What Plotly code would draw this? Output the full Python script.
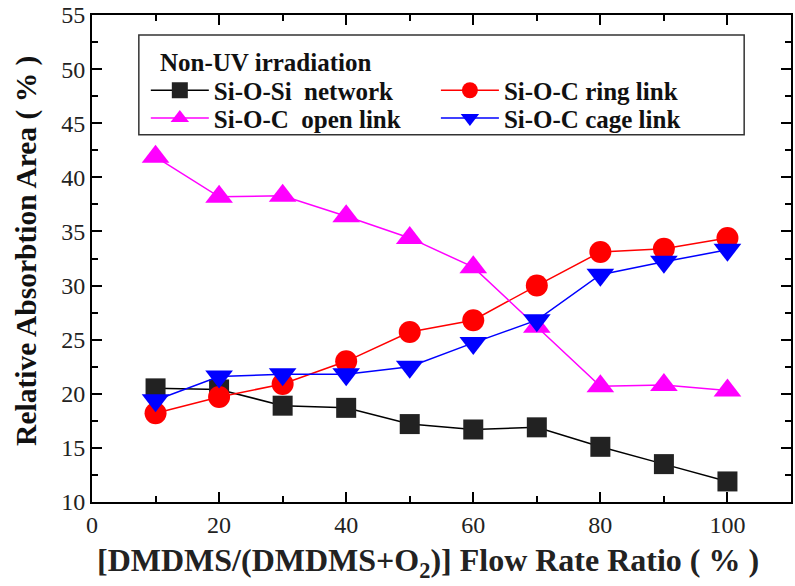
import plotly.graph_objects as go

x = [10, 20, 30, 40, 50, 60, 70, 80, 90, 100]
si_o_si = [20.5, 20.4, 18.9, 18.7, 17.2, 16.7, 16.9, 15.1, 13.5, 11.9]
ring = [18.2, 19.7, 20.9, 23.0, 25.7, 26.8, 30.0, 33.1, 33.4, 34.4]
open_link = [41.9, 38.2, 38.3, 36.4, 34.4, 31.7, 26.2, 20.7, 20.8, 20.3]
cage = [19.4, 21.6, 21.8, 21.8, 22.5, 24.7, 26.8, 31.0, 32.2, 33.3]

names = ["Si-O-Si  network", "Si-O-C ring link", "Si-O-C  open link", "Si-O-C cage link"]
x_title = "<b>[DMDMS/(DMDMS+O<sub>2</sub>)] Flow Rate Ratio ( % )</b>"
y_title = "<b>Relative Absorbtion Area ( % )</b>"
legend_title = "<b>Non-UV irradiation</b>"

FONT = "'Liberation Serif', 'Times New Roman', Times, 'DejaVu Serif', serif"

fig = go.Figure()
fig.add_trace(go.Scatter(x=x, y=si_o_si, name=names[0], mode="lines+markers", legend="legend",
                         showlegend=True,
                         line=dict(color="black", width=1.5),
                         marker=dict(symbol="square", size=20, color="#222222")))
fig.add_trace(go.Scatter(x=x, y=ring, name=names[1], mode="lines+markers", legend="legend2",
                         showlegend=True,
                         line=dict(color="red", width=1.5),
                         marker=dict(symbol="circle", size=22, color="red")))
fig.add_trace(go.Scatter(x=x, y=open_link, name=names[2], mode="lines+markers", legend="legend3",
                         showlegend=True,
                         line=dict(color="magenta", width=1.5),
                         marker=dict(symbol="triangle-up", size=24, color="magenta")))
fig.add_trace(go.Scatter(x=x, y=cage, name=names[3], mode="lines+markers", legend="legend4",
                         showlegend=True,
                         line=dict(color="blue", width=1.5),
                         marker=dict(symbol="triangle-down", size=24, color="blue")))

axis_common = dict(showline=True, linecolor="black", linewidth=2, mirror="ticks",
                   ticks="inside", ticklen=10, tickwidth=2, tickcolor="black",
                   showgrid=False, zeroline=False,
                   tickfont=dict(family=FONT, size=24, color="#222"))

fig.update_xaxes(range=[0, 110], tickvals=[0, 20, 40, 60, 80, 100],
                 minor=dict(ticks="inside", ticklen=6, tickwidth=2, tickcolor="black", dtick=10, tick0=0),
                 **axis_common)
fig.update_yaxes(range=[10, 55], dtick=5,
                 minor=dict(ticks="inside", ticklen=6, tickwidth=2, tickcolor="black", dtick=2.5, tick0=10),
                 **axis_common)

legend_font = dict(family=FONT, size=25, color="#111", weight="bold")


def leg(xp, yp):
    return dict(x=xp, y=yp, xanchor="left", yanchor="middle", visible=True,
                itemwidth=58, borderwidth=0, bgcolor="rgba(0,0,0,0)",
                font=legend_font, tracegroupgap=0)


fig.update_layout(
    width=795, height=586,
    showlegend=True,
    margin=dict(l=92, r=2, t=14, b=84),
    plot_bgcolor="white", paper_bgcolor="white",
    legend=leg(0.077, 0.845),
    legend2=leg(0.492, 0.845),
    legend3=leg(0.077, 0.788),
    legend4=leg(0.492, 0.788),
    shapes=[dict(type="rect", xref="paper", yref="paper",
                 x0=0.067, x1=0.933, y0=0.754, y1=0.959,
                 line=dict(color="#333", width=1.5), fillcolor="rgba(0,0,0,0)", layer="below")],
    annotations=[
        dict(text=legend_title, xref="paper", yref="paper", x=0.094, y=0.902,
             xanchor="left", yanchor="middle", showarrow=False,
             font=dict(family=FONT, size=25, color="#111")),
        dict(text=x_title, xref="paper", yref="paper", x=0.481, y=-0.125,
             xanchor="center", yanchor="middle", showarrow=False,
             font=dict(family=FONT, size=32, color="#222")),
        dict(text=y_title, xref="paper", yref="paper", x=-0.0927, y=0.516,
             xanchor="center", yanchor="middle", showarrow=False, textangle=-90,
             font=dict(family=FONT, size=29.5, color="#111")),
    ],
)

fig.write_html("out.html")
